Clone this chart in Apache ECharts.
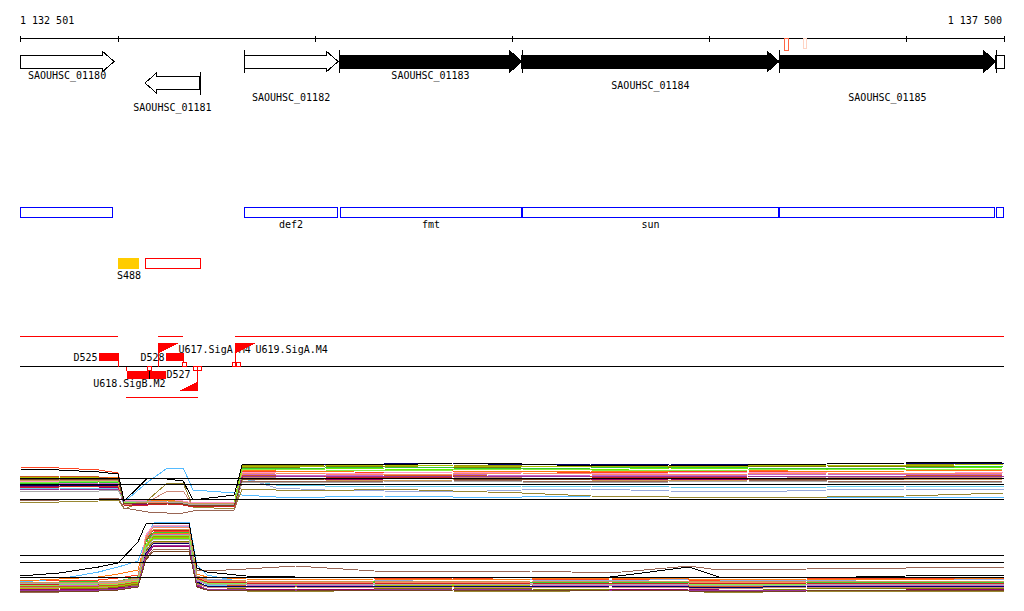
<!DOCTYPE html>
<html><head><meta charset="utf-8">
<script src="https://cdn.jsdelivr.net/npm/echarts@6/dist/echarts.min.js"></script>
<style>html,body{margin:0;padding:0;background:#fff}#c{width:1024px;height:611px}
#c svg path{shape-rendering:crispEdges}</style>
</head><body><div id="c"></div>
<script>
// ================= DATA =================
const VIEW_START = 1132501, VIEW_END = 1137500;
const rulerTicks = [1132501, 1133000, 1134000, 1135000, 1136000, 1137000, 1137500];
const rulerLabels = ['1 132 501', '1 137 500'];

// genes
const geneNames  = ['SAOUHSC_01180','SAOUHSC_01181','SAOUHSC_01182','SAOUHSC_01183','SAOUHSC_01184','SAOUHSC_01185',''];
const geneStart  = [1132420, 1133136, 1133639, 1134122, 1135051, 1136357, 1137459];
const geneEnd    = [1132979, 1133415, 1134117, 1135051, 1136357, 1137459, 1137620];
const geneStrand = ['+','-','+','+','+','+','+'];
const geneOperon = [false, false, false, true, true, true, false];

// small top markers
const topMarkStart = [1136384, 1136480];
const topMarkEnd   = [1136401, 1136492];

// protein / CDS annotation boxes
const cdsNames = ['', 'def2', 'fmt', 'sun', '', ''];
const cdsStart = [1132420, 1133639, 1134127, 1135051, 1136357, 1137459];
const cdsEnd   = [1132973, 1134117, 1135051, 1136357, 1137454, 1137620];

// segments
const segNames = ['S488', ''];
const segStart = [1132999, 1133136];
const segEnd   = [1133105, 1133415];
const segType  = ['S', 'R'];

// transcription units
const tuStart  = [1132420, 1133202, 1133593, 1133039];
const tuEnd    = [1132999, 1133329, 1137620, 1133405];
const tuStrand = ['+', '+', '+', '-'];

// down-shifts (terminators)
const downNames  = ['D525', 'D528', 'D527'];
const downPos    = [1132999, 1133329, 1133039];
const downStrand = ['+', '+', '-'];
const downLen    = [100, 90, 200];

// up-shifts (promoters)
const upNames  = ['U617.SigA.M4', 'U619.SigA.M4', 'U618.SigB.M2'];
const upPos    = [1133202, 1133593, 1133400];
const upStrand = ['+', '+', '-'];

// other start sites
const tssPos    = [1133334, 1133588, 1133606, 1133158, 1133390, 1133408];
const tssStrand = ['+', '+', '+', '-', '-', '-'];
const blackMarkPos = [1133156];

// expression profiles
const posTop = [1132501, 1132700, 1132900, 1133000, 1133030, 1133150, 1133250, 1133330, 1133380, 1133590, 1133630, 1133800, 1134050, 1134350, 1134700, 1135050, 1135400, 1135800, 1136200, 1136600, 1137000, 1137500];
const posBot = [1132501, 1132700, 1132900, 1133000, 1133100, 1133140, 1133180, 1133360, 1133400, 1133450, 1133650, 1133900, 1134300, 1134700, 1135100, 1135500, 1135900, 1136050, 1136500, 1137000, 1137500];

const topProfiles = [
  [10.6,10.5,10.3,10.1,7.4,9.7,9.6,9.4,7.5,8.0,11.1,11.0,11.1,11.0,11.2,11.1,10.9,11.0,11.0,11.1,11.2,11.3],
  [10.8,10.7,10.5,10.2,7.0,7.1,7.2,7.0,6.9,6.8,10.4,10.3,10.4,10.2,10.3,10.4,10.2,10.3,10.4,10.3,10.4,10.5],
  [8.9,9.0,9.1,9.1,7.3,9.3,10.7,10.7,8.5,8.2,8.0,7.8,7.8,7.9,7.8,7.8,7.9,7.8,7.8,7.8,7.8,7.8],
  [8.6,8.7,8.6,8.7,7.0,7.1,7.2,7.1,6.9,6.9,9.6,9.0,8.9,8.9,8.8,8.9,8.9,8.8,8.7,8.8,8.9,8.9],
  [8.9,9.0,9.0,9.1,7.1,7.2,7.3,7.2,7.0,7.0,9.8,8.7,8.5,8.4,8.3,8.5,8.6,8.4,8.3,8.5,8.6,8.6],
  [7.3,7.3,7.4,7.5,6.6,7.5,9.2,9.2,6.8,6.6,8.6,8.5,8.4,8.6,8.4,8.2,7.9,7.8,7.8,7.8,7.9,8.2],
  [9.3,9.4,9.3,9.2,7.2,7.4,7.5,7.3,7.1,7.3,11.0,10.9,11.0,10.8,11.0,10.9,10.8,10.9,10.8,11.0,11.0,11.2],
  [9.0,9.1,9.0,9.1,7.1,7.2,7.3,7.2,7.0,7.1,10.8,10.7,10.9,10.8,10.7,10.8,10.9,10.7,10.8,10.9,10.8,10.9],
  [9.5,9.4,9.5,9.4,7.2,7.3,7.3,7.2,7.1,7.2,10.6,10.5,10.7,10.6,10.5,10.6,10.5,10.7,10.6,10.5,10.7,10.8],
  [9.8,9.8,9.7,9.8,7.3,7.4,7.5,7.4,7.2,7.3,10.5,10.4,10.3,10.5,10.4,10.3,10.4,10.4,10.5,10.3,10.4,10.5],
  [9.9,9.9,9.8,9.6,7.0,7.1,7.1,7.0,6.8,6.9,10.0,9.9,9.8,9.9,10.0,9.8,9.9,9.7,9.9,9.8,9.9,10.0],
  [8.8,8.9,8.8,8.7,7.1,7.0,7.1,7.0,6.9,7.0,9.7,9.6,9.5,9.6,9.7,9.6,9.5,9.6,9.5,9.6,9.7,9.7],
  [9.1,9.1,9.2,9.2,7.2,7.3,7.2,7.3,7.0,7.1,10.1,10.0,9.9,10.0,10.1,9.9,10.0,9.9,10.0,10.1,10.0,10.1],
  [9.4,9.4,9.5,9.5,7.4,7.5,7.6,7.4,7.2,7.3,10.3,10.2,10.1,10.2,10.3,10.2,10.1,10.2,10.3,10.2,10.1,10.3],
  [9.6,9.5,9.5,9.4,7.0,7.3,8.4,8.4,6.9,7.0,9.8,9.7,9.6,9.7,9.8,9.7,9.6,9.7,9.6,9.8,9.7,9.8],
  [8.9,9.0,8.9,9.0,7.4,7.3,7.4,7.3,7.1,7.2,11.1,11.1,11.0,11.1,11.2,11.0,11.1,11.1,11.0,11.1,11.2,11.2],
  [7.4,7.5,7.6,7.7,6.7,6.3,6.2,6.2,6.4,6.5,9.4,9.4,9.3,9.4,9.5,9.4,9.3,9.4,9.5,9.4,9.3,9.4],
  [9.2,9.2,9.3,9.3,7.3,7.4,7.4,7.3,7.1,7.2,10.7,10.6,10.7,10.8,10.7,10.6,10.7,10.8,10.7,10.6,10.7,10.9],
  [9.7,9.8,9.7,9.7,7.2,7.3,7.4,7.3,7.1,7.2,10.9,10.8,10.9,11.0,10.9,10.8,10.9,10.8,10.9,11.0,10.9,11.1],
  [8.7,8.8,8.9,8.9,7.0,7.0,7.1,7.0,6.8,6.9,9.8,9.9,9.8,9.7,9.8,9.9,9.8,9.7,9.8,9.9,9.8,9.9],
  [9.0,9.1,9.0,9.1,7.2,7.3,7.3,7.2,7.0,7.1,10.1,10.2,10.1,10.0,10.1,10.2,10.1,10.0,10.1,10.2,10.1,10.2],
  [9.5,9.5,9.6,9.6,7.3,7.3,7.4,7.3,7.1,7.2,9.5,9.6,9.5,9.4,9.5,9.6,9.5,9.4,9.5,9.6,9.5,9.6],
  [8.5,8.6,8.5,8.6,7.1,7.2,7.2,7.1,6.9,7.0,9.9,9.8,9.9,9.8,9.9,9.8,9.9,9.8,9.9,9.8,9.9,9.9],
  [9.3,9.3,9.4,9.3,7.2,7.4,7.3,7.2,7.0,7.1,10.5,10.6,10.5,10.4,10.5,10.6,10.5,10.4,10.5,10.6,10.5,10.6],
  [8.3,8.4,8.4,8.5,7.3,7.4,7.3,7.2,7.0,7.1,9.3,9.3,9.2,9.3,9.4,9.3,9.2,9.3,9.4,9.3,9.2,9.3],
  [9.6,9.6,9.5,9.6,7.1,7.2,7.2,7.1,6.9,7.0,9.6,9.5,9.6,9.7,9.6,9.5,9.6,9.7,9.6,9.5,9.6,9.7]
];
const botProfiles = [
  [7.9,8.2,8.8,9.2,11.3,13.1,13.2,13.2,8.7,8.3,7.9,7.8,7.7,7.8,7.7,7.8,8.8,7.8,7.7,7.9,8.0],
  [7.4,7.5,7.5,7.7,8.0,11.0,12.3,12.4,8.1,7.8,7.6,7.5,7.6,7.7,7.5,7.6,7.5,7.4,7.6,7.7,7.6],
  [7.3,7.6,8.3,8.8,9.4,11.5,13.2,13.3,9.0,8.0,7.2,7.0,7.1,7.0,7.2,7.0,7.1,7.0,7.2,7.0,7.1],
  [6.8,6.9,6.8,7.0,7.2,10.5,11.8,11.7,7.6,7.0,6.9,6.8,6.9,7.0,6.8,6.9,6.8,6.7,6.9,6.8,6.9],
  [7.0,7.1,7.0,7.2,7.5,11.8,12.9,12.8,7.9,7.6,7.4,7.3,7.4,7.6,7.5,7.4,7.6,7.5,7.4,7.6,7.5],
  [6.5,6.6,6.5,6.8,7.0,9.8,11.0,11.0,7.0,6.6,6.4,6.3,6.5,6.4,6.3,6.5,6.4,6.2,6.4,6.3,6.4],
  [6.9,7.0,6.9,7.1,7.4,10.9,11.9,11.8,7.7,7.4,7.3,7.2,7.3,7.4,7.2,7.3,7.4,7.2,7.3,7.4,7.3],
  [6.6,6.7,6.6,6.8,7.1,10.4,11.4,11.4,7.2,6.8,6.6,6.5,6.6,6.7,6.6,6.5,6.6,6.4,6.6,6.7,6.6],
  [7.2,7.2,7.3,7.3,7.6,10.8,11.7,11.7,7.8,7.5,7.3,7.2,7.4,7.3,7.2,7.3,7.4,7.3,7.2,7.3,7.4],
  [7.4,7.6,7.8,8.1,8.5,11.6,12.2,12.1,8.1,7.8,7.6,7.5,7.6,7.5,7.6,7.7,7.6,7.5,7.6,7.5,7.7],
  [6.8,6.9,6.9,7.0,7.3,11.4,12.6,12.5,7.5,7.1,6.9,6.8,6.9,6.8,6.9,7.0,6.9,6.8,6.9,6.8,6.9],
  [6.5,6.6,6.5,6.7,6.9,9.9,10.9,10.9,6.9,6.6,6.5,6.6,6.5,6.6,6.4,6.5,6.6,6.5,6.4,6.5,6.6],
  [6.9,7.0,7.0,7.1,7.4,11.0,12.1,12.0,7.4,7.1,7.0,6.9,7.0,7.1,7.0,6.9,7.0,7.1,7.0,6.9,7.0],
  [7.1,7.2,7.1,7.3,7.6,12.0,13.0,12.9,7.6,7.3,7.1,7.2,7.1,7.2,7.1,7.2,7.1,7.0,7.2,7.1,7.2],
  [6.7,6.8,6.7,6.9,7.2,10.2,11.3,11.3,7.1,6.8,6.7,6.8,6.7,6.8,6.7,6.8,6.7,6.6,6.8,6.7,6.8],
  [6.4,6.5,6.4,6.6,6.8,10.1,11.2,11.2,7.3,6.9,6.8,6.9,6.8,6.9,6.8,6.9,6.8,6.7,6.9,6.8,6.9],
  [6.2,6.3,6.4,6.5,6.8,9.6,10.6,10.6,8.5,8.4,8.6,8.9,8.4,8.3,8.4,8.2,8.9,8.5,8.6,8.7,8.8],
  [7.3,7.3,7.4,7.4,7.8,11.3,12.3,12.2,7.7,7.4,7.2,7.3,7.2,7.3,7.2,7.3,7.2,7.1,7.3,7.2,7.3],
  [6.6,6.7,6.8,6.9,7.2,10.8,11.8,11.7,7.6,7.2,7.0,7.1,7.0,6.9,7.0,7.1,7.0,6.9,7.0,7.1,7.0],
  [7.0,7.1,7.1,7.2,7.5,11.5,12.5,12.4,7.7,7.3,7.2,7.1,7.2,7.1,7.2,7.1,7.2,7.1,7.2,7.1,7.2],
  [6.9,7.0,7.1,7.2,7.5,11.8,12.8,12.8,7.8,7.4,7.3,7.2,7.3,7.2,7.3,7.4,7.3,7.2,7.3,7.4,7.3],
  [7.2,7.3,7.3,7.4,7.7,11.6,12.6,12.5,7.9,7.5,7.4,7.3,7.4,7.3,7.4,7.3,7.4,7.3,7.4,7.3,7.4],
  [6.4,6.5,6.5,6.6,6.9,10.0,11.0,11.0,7.0,6.6,6.5,6.4,6.5,6.6,6.5,6.4,6.5,6.4,6.5,6.4,6.5],
  [7.0,7.0,7.1,7.1,7.4,11.0,12.0,11.9,7.5,7.2,7.1,7.0,7.1,7.0,7.1,7.0,7.1,7.0,7.1,7.0,7.1],
  [7.1,7.2,7.2,7.3,7.6,10.6,11.6,11.5,7.5,7.1,7.0,7.1,7.0,7.1,7.0,7.1,7.0,6.9,7.0,7.1,7.0],
  [6.3,6.4,6.4,6.5,6.8,9.5,10.4,10.4,6.8,6.5,6.4,6.5,6.4,6.5,6.4,6.5,6.4,6.3,6.4,6.5,6.4]
];
const topThresholds = [9.67, 9.1, 7.57];
const botThresholds = [9.97, 9.27, 7.77];

// ================= STYLE / LAYOUT =================
const profileColors = ['#000000','#ff4422','#55bbff','#66ccee','#99aadd','#998833','#999900','#808000',
  '#66ee00','#ff7711','#cc5522','#990066','#cc66cc','#ff99cc','#cc8877','#000066','#996655','#33cc33',
  '#aabb00','#cc2222','#ff8866','#cc9955','#993399','#88ee44','#aaaaaa','#774422'];
const FONT = '10px "DejaVu Sans Mono", monospace';
const LANE = { rulerLabel: 20.5, ruler: 38.5, geneFwd: 61.5, geneRev: 83, cds: 212.5, seg: 263.5,
  tuPlus: 336.5, regAxis: 366.5, tuMinus: 397.5 };
const labelDy = [13.5, 24, 36];
const topMarkColors = ['#ff6644', '#ffd4c4'];
const topMarkHeights = [12, 10];

const chart = echarts.init(document.getElementById('c'), null, { renderer: 'svg' });

function px(api, bp) { return api.coord([bp, 0])[0]; }
function py(api, lane) { return api.coord([VIEW_START, lane])[1]; }
function clampX(api, x) {
  const a = px(api, VIEW_START), b = px(api, VIEW_END);
  return Math.min(Math.max(x, a), b);
}
function txt(x, y, text, align, color) {
  return { type: 'text', style: { x, y, text, font: FONT, fill: color || '#000', align: align || 'center', verticalAlign: 'middle' } };
}
function ln(x1, y1, x2, y2, color) {
  return { type: 'line', shape: { x1, y1, x2, y2 }, style: { stroke: color || '#000', lineWidth: 1 } };
}
function custom(name, n, renderItem) {
  return {
    type: 'custom', name, xAxisIndex: 0, yAxisIndex: 0, silent: true,
    data: Array.from({ length: n }, (_, i) => [VIEW_START, i]),
    encode: { x: 0, y: 1 },
    renderItem
  };
}

const series = [];

series.push(custom('ruler', 1, (params, api) => {
  const y = py(api, LANE.ruler), ly = py(api, LANE.rulerLabel);
  const ch = [ln(px(api, VIEW_START), y, px(api, VIEW_END), y)];
  rulerTicks.forEach(t => { const x = Math.round(px(api, t)) + 0.5; ch.push(ln(x, y - 3, x, y + 3)); });
  ch.push(txt(px(api, VIEW_START), ly, rulerLabels[0], 'left'));
  ch.push(txt(px(api, VIEW_END) - 2, ly, rulerLabels[1], 'right'));
  return { type: 'group', children: ch };
}));

series.push(custom('topMarks', topMarkStart.length, (params, api) => {
  const i = params.dataIndex;
  const x1 = Math.round(px(api, topMarkStart[i])) + 0.5, x2 = Math.round(px(api, topMarkEnd[i])) + 0.5;
  const y = py(api, LANE.ruler);
  return { type: 'rect', shape: { x: x1, y: y, width: Math.max(x2 - x1, 2), height: topMarkHeights[i] },
    style: { fill: 'none', stroke: topMarkColors[i], lineWidth: 1 } };
}));

series.push(custom('genes', geneNames.length, (params, api) => {
  const i = params.dataIndex;
  const fwd = geneStrand[i] === '+';
  const s = clampX(api, px(api, geneStart[i])), e = clampX(api, px(api, geneEnd[i]));
  const cy = py(api, fwd ? LANE.geneFwd : LANE.geneRev);
  const hb = 6.5, hh = 10.5, head = 12;
  let pts;
  if (fwd) {
    if (geneEnd[i] <= VIEW_END) pts = [[s, cy - hb], [e - head, cy - hb], [e - head, cy - hh], [e, cy], [e - head, cy + hh], [e - head, cy + hb], [s, cy + hb]];
    else pts = [[s, cy - hb], [e, cy - hb], [e, cy + hb], [s, cy + hb]];
  } else {
    if (geneStart[i] >= VIEW_START) pts = [[e, cy - hb], [s + head, cy - hb], [s + head, cy - hh], [s, cy], [s + head, cy + hh], [s + head, cy + hb], [e, cy + hb]];
    else pts = [[s, cy - hb], [e, cy - hb], [e, cy + hb], [s, cy + hb]];
  }
  const ch = [{ type: 'polygon', shape: { points: pts }, style: { fill: geneOperon[i] ? '#000' : '#fff', stroke: '#000', lineWidth: 1 } }];
  const showBar = fwd ? geneStart[i] >= VIEW_START : geneEnd[i] <= VIEW_END;
  if (showBar) { const bx = Math.round(fwd ? s : e) + 0.5; ch.push(ln(bx, cy - 11.5, bx, cy + 11.5)); }
  if (geneNames[i]) ch.push(txt((s + e) / 2, cy + labelDy[i % 3], geneNames[i], 'center'));
  return { type: 'group', children: ch };
}));

series.push(custom('cds', cdsNames.length, (params, api) => {
  const i = params.dataIndex;
  const s = Math.round(clampX(api, px(api, cdsStart[i]))) + 0.5;
  const e = Math.round(clampX(api, px(api, cdsEnd[i]))) - 0.5;
  const cy = py(api, LANE.cds);
  const ch = [{ type: 'rect', shape: { x: s, y: cy - 5, width: e - s, height: 10 }, style: { fill: '#fff', stroke: '#0000ff', lineWidth: 1 } }];
  if (cdsNames[i]) ch.push(txt((s + e) / 2, cy + 12, cdsNames[i], 'center'));
  return { type: 'group', children: ch };
}));

series.push(custom('segments', segNames.length, (params, api) => {
  const i = params.dataIndex;
  const s = Math.round(px(api, segStart[i])) + 0.5, e = Math.round(px(api, segEnd[i])) + 0.5;
  const cy = py(api, LANE.seg);
  const ch = [];
  if (segType[i] === 'S') ch.push({ type: 'rect', shape: { x: s - 0.5, y: cy - 5.5, width: e - s, height: 11 }, style: { fill: '#ffcc00' } });
  else ch.push({ type: 'rect', shape: { x: s, y: cy - 5, width: e - s, height: 10 }, style: { fill: '#fff', stroke: '#ff0000', lineWidth: 1 } });
  if (segNames[i]) ch.push(txt((s + e) / 2, cy + 12, segNames[i], 'center'));
  return { type: 'group', children: ch };
}));

series.push(custom('tu', tuStart.length, (params, api) => {
  const i = params.dataIndex;
  const s = clampX(api, px(api, tuStart[i])), e = clampX(api, px(api, tuEnd[i]));
  const y = py(api, tuStrand[i] === '+' ? LANE.tuPlus : LANE.tuMinus);
  return ln(s, y, e, y, '#ff0000');
}));
series.push(custom('regAxis', 1, (params, api) => {
  const y = py(api, LANE.regAxis);
  return ln(px(api, VIEW_START), y, px(api, VIEW_END), y, '#000');
}));

series.push(custom('down', downNames.length, (params, api) => {
  const i = params.dataIndex;
  const x = Math.round(px(api, downPos[i])) + 0.5;
  const w = Math.round(px(api, downPos[i] + downLen[i]) - px(api, downPos[i]));
  const ay = py(api, LANE.regAxis);
  const ch = [];
  if (downStrand[i] === '+') {
    ch.push({ type: 'rect', shape: { x: x - w, y: ay - 13.5, width: w, height: 8 }, style: { fill: '#ff0000' } });
    ch.push(ln(x, ay - 6, x, ay, '#ff0000'));
    ch.push(txt(x - w - 1, ay - 9.5, downNames[i], 'right'));
  } else {
    ch.push({ type: 'rect', shape: { x: x, y: ay + 4, width: w, height: 8.5 }, style: { fill: '#ff0000' } });
    ch.push(ln(x, ay, x, ay + 4, '#ff0000'));
    ch.push(txt(x + w + 1, ay + 7.5, downNames[i], 'left'));
  }
  return { type: 'group', children: ch };
}));

series.push(custom('blackMarks', blackMarkPos.length, (params, api) => {
  const x = Math.round(px(api, blackMarkPos[params.dataIndex])) + 0.5;
  const ay = py(api, LANE.regAxis);
  return ln(x, ay + 4, x, ay + 12.5, '#000');
}));

series.push(custom('tss', tssPos.length, (params, api) => {
  const i = params.dataIndex;
  const x = Math.round(px(api, tssPos[i])) + 0.5;
  const ay = py(api, LANE.regAxis);
  const y0 = tssStrand[i] === '+' ? ay - 4 : ay;
  return { type: 'rect', shape: { x: x - 2, y: y0, width: 3.5, height: 4 }, style: { fill: '#fff', stroke: '#ff0000', lineWidth: 1 } };
}));

series.push(custom('up', upNames.length, (params, api) => {
  const i = params.dataIndex;
  const x = Math.round(px(api, upPos[i])) + 0.5;
  const ay = py(api, LANE.regAxis);
  const ch = [];
  if (upStrand[i] === '+') {
    const ty = ay - 23.5;
    ch.push(ln(x, ay, x, ty, '#ff0000'));
    ch.push({ type: 'polygon', shape: { points: [[x, ty], [x + 20, ty], [x, ty + 10]] }, style: { fill: '#ff0000' } });
    ch.push(txt(x + 20, ty + 6.5, upNames[i], 'left'));
  } else {
    const by = ay + 24.5;
    ch.push(ln(x, ay, x, by, '#ff0000'));
    ch.push({ type: 'polygon', shape: { points: [[x, by], [x - 19, by], [x, by - 9]] }, style: { fill: '#ff0000' } });
    ch.push(txt(x - 32, by - 7.5, upNames[i], 'right'));
  }
  return { type: 'group', children: ch };
}));

// expression profiles (coloured first, black on top)
const order = topProfiles.map((_, i) => i).filter(i => i !== 0).concat([0]);
order.forEach(i => {
  series.push({ type: 'line', name: 'top' + i, xAxisIndex: 1, yAxisIndex: 1, silent: true,
    data: posTop.map((p, j) => [p, topProfiles[i][j]]), symbol: 'none', lineStyle: { width: 1, color: profileColors[i] } });
  series.push({ type: 'line', name: 'bot' + i, xAxisIndex: 2, yAxisIndex: 2, silent: true,
    data: posBot.map((p, j) => [p, botProfiles[i][j]]), symbol: 'none', lineStyle: { width: 1, color: profileColors[i] } });
});
topThresholds.forEach((v, k) => series.push({ type: 'line', name: 'tt' + k, xAxisIndex: 1, yAxisIndex: 1, silent: true,
  data: [[VIEW_START, v], [VIEW_END, v]], symbol: 'none', lineStyle: { width: 1, color: '#000' } }));
botThresholds.forEach((v, k) => series.push({ type: 'line', name: 'bt' + k, xAxisIndex: 2, yAxisIndex: 2, silent: true,
  data: [[VIEW_START, v], [VIEW_END, v]], symbol: 'none', lineStyle: { width: 1, color: '#000' } }));

const hiddenX = (g) => ({ type: 'value', gridIndex: g, min: VIEW_START, max: VIEW_END, show: false });
chart.setOption({
  animation: false,
  backgroundColor: '#fff',
  grid: [
    { left: 20, right: 20, top: 0, height: 611 },
    { left: 20, right: 20, top: 455, height: 60 },
    { left: 20, right: 20, top: 515, height: 80 }
  ],
  xAxis: [hiddenX(0), hiddenX(1), hiddenX(2)],
  yAxis: [
    { type: 'value', gridIndex: 0, min: 0, max: 611, inverse: true, show: false },
    { type: 'value', gridIndex: 1, min: 6, max: 12, show: false },
    { type: 'value', gridIndex: 2, min: 6, max: 14, show: false }
  ],
  series
});
</script>
</body></html>
